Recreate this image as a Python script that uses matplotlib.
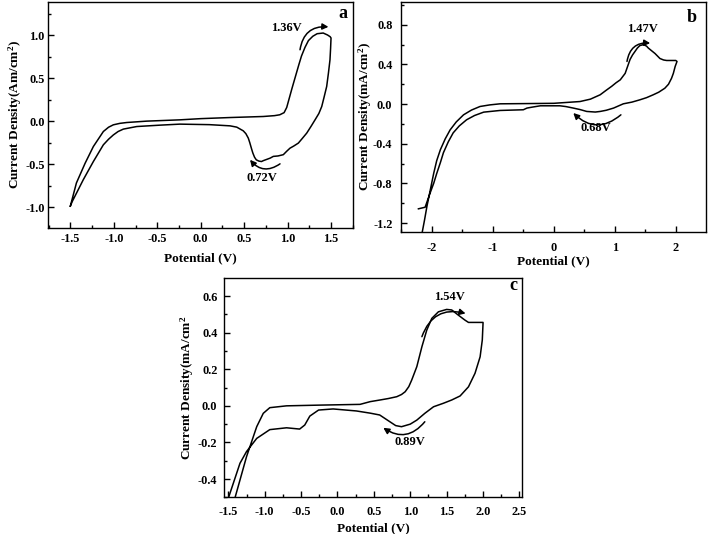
import numpy as np
import matplotlib
matplotlib.use("Agg")
import matplotlib.pyplot as plt
from matplotlib.ticker import MultipleLocator, FormatStrFormatter

plt.rcParams['font.family'] = ['Liberation Serif', 'DejaVu Serif']
plt.rcParams['font.weight'] = 'bold'
plt.rcParams['mathtext.fontset'] = 'custom'
plt.rcParams['mathtext.rm'] = 'Liberation Serif:bold'
plt.rcParams['mathtext.default'] = 'rm'

# ---- panel a: CV loop (forward sweep then return sweep) ----
a_pot = [-1.50, -1.43, -1.33, -1.235, -1.12, -1.06, -1.005, -0.93, -0.85, -0.62, -0.24, 0.00,
         0.34, 0.72, 0.85, 0.91, 0.96, 0.99, 1.02, 1.05, 1.09, 1.13, 1.16, 1.20, 1.24, 1.29,
         1.34, 1.41, 1.46, 1.49, 1.50,
         1.495, 1.488, 1.47, 1.45, 1.42, 1.393, 1.36, 1.316, 1.27, 1.22, 1.17, 1.124, 1.07, 1.028,
         0.99, 0.951, 0.89, 0.836, 0.80, 0.76, 0.72, 0.70, 0.67, 0.64, 0.62, 0.60, 0.585, 0.565,
         0.548, 0.52, 0.49, 0.415, 0.338, 0.10, -0.24, -0.47, -0.736, -0.89, -0.95, -1.005,
         -1.06, -1.12, -1.235, -1.35, -1.48, -1.50]
a_cur = [-0.99, -0.72, -0.49, -0.295, -0.12, -0.07, -0.042, -0.025, -0.015, 0.001, 0.016, 0.03,
         0.043, 0.055, 0.065, 0.075, 0.10, 0.16, 0.27, 0.38, 0.52, 0.66, 0.76, 0.86, 0.94, 0.99,
         1.02, 1.028, 1.005, 0.985, 0.97,
         0.85, 0.716, 0.56, 0.405, 0.28, 0.171, 0.09, 0.016, -0.06, -0.139, -0.20, -0.255, -0.29, -0.314,
         -0.35, -0.39, -0.405, -0.41, -0.43, -0.445, -0.46, -0.47, -0.465, -0.45, -0.42, -0.37, -0.32, -0.25,
         -0.197, -0.145, -0.112, -0.069, -0.054, -0.04, -0.034, -0.046, -0.062, -0.092, -0.12, -0.16,
         -0.21, -0.275, -0.47, -0.68, -0.94, -0.99]

# ---- panel b ----
b_pot = [-2.16, -2.12, -2.08, -2.02, -1.97, -1.92, -1.86, -1.78, -1.70, -1.60, -1.48, -1.35,
         -1.21, -1.05, -0.88, -0.50, 0.00, 0.43, 0.60, 0.76, 0.86, 0.95, 1.02, 1.09, 1.17, 1.21,
         1.25, 1.29, 1.33, 1.37, 1.41, 1.47, 1.52, 1.55, 1.60, 1.66, 1.74, 1.80, 1.85, 2.00,
         2.02, 1.99, 1.96, 1.93, 1.88, 1.82, 1.72, 1.63, 1.52, 1.41, 1.28, 1.14, 0.98, 0.86,
         0.76, 0.68, 0.54, 0.43, 0.32, 0.20, 0.10, -0.22, -0.35, -0.44, -0.50, -0.88, -1.15,
         -1.30, -1.43, -1.55, -1.65, -1.73, -1.81, -1.86, -1.92, -1.97, -2.03, -2.11, -2.22]
b_cur = [-1.30, -1.17, -1.03, -0.85, -0.70, -0.57, -0.46, -0.35, -0.26, -0.18, -0.108, -0.06,
         -0.024, -0.008, 0.003, 0.005, 0.008, 0.026, 0.05, 0.094, 0.14, 0.18, 0.215, 0.245, 0.31, 0.38,
         0.45, 0.495, 0.53, 0.565, 0.59, 0.60, 0.585, 0.565, 0.54, 0.51, 0.46, 0.445, 0.44, 0.44,
         0.43, 0.38, 0.31, 0.26, 0.20, 0.16, 0.12, 0.094, 0.065, 0.043, 0.02, 0.003, -0.04, -0.062,
         -0.074, -0.08, -0.074, -0.055, -0.04, -0.025, -0.017, -0.017, -0.03, -0.04, -0.057, -0.064, -0.081,
         -0.115, -0.158, -0.22, -0.29, -0.38, -0.49, -0.59, -0.70, -0.80, -0.90, -1.04, -1.056]

# ---- panel c ----
c_pot = [-1.41, -1.25, -1.11, -1.02, -0.93, -0.70, -0.24, 0.31, 0.45, 0.585, 0.70, 0.815, 0.88,
         0.93, 0.98, 1.02, 1.09, 1.16, 1.227, 1.296, 1.387, 1.50, 1.57, 1.66, 1.75, 1.80, 1.91, 2.00,
         2.00, 1.99, 1.96, 1.89, 1.80, 1.685, 1.57, 1.455, 1.32, 1.20, 1.09, 1.00, 0.88, 0.80, 0.72,
         0.58, 0.45, 0.26, -0.06, -0.26, -0.38, -0.45, -0.52, -0.70, -0.93, -1.11, -1.25, -1.34, -1.50]
c_cur = [-0.505, -0.278, -0.114, -0.041, -0.010, 0.0, 0.004, 0.008, 0.023, 0.032, 0.04, 0.05, 0.062,
         0.077, 0.105, 0.141, 0.214, 0.323, 0.414, 0.478, 0.514, 0.527, 0.524, 0.496, 0.469, 0.456, 0.456, 0.456,
         0.45, 0.36, 0.268, 0.178, 0.104, 0.054, 0.032, 0.014, -0.005, -0.041, -0.078, -0.10, -0.114, -0.108, -0.087,
         -0.05, -0.04, -0.028, -0.017, -0.023, -0.056, -0.105, -0.127, -0.12, -0.13, -0.178, -0.25, -0.314, -0.505]

# peak annotations: label, label position, arrow start, arrow end
a_notes = [("1.36V", (0.99, 1.09), (1.143, 0.833), (1.47, 1.10)),
           ("0.72V", (0.70, -0.66), (0.913, -0.497), (0.568, -0.45))]
b_notes = [("1.47V", (1.46, 0.76), (1.20, 0.43), (1.58, 0.615)),
           ("0.68V", (0.69, -0.24), (1.10, -0.108), (0.32, -0.09))]
c_notes = [("1.54V", (1.54, 0.596), (1.16, 0.378), (1.76, 0.505)),
           ("0.89V", (1.00, -0.20), (1.20, -0.087), (0.63, -0.12))]

fig = plt.figure(figsize=(7.09, 5.34), dpi=100)
ax_a = fig.add_axes([0.0677, 0.573, 0.4302, 0.4233])
ax_b = fig.add_axes([0.5652, 0.5655, 0.4301, 0.4308])
ax_c = fig.add_axes([0.3164, 0.0687, 0.4203, 0.4101])


def style(ax, xlim, ylim, xmaj, ymaj, xfmt, yfmt, ylabel, tag, tagpos,
          xpad, ypad, xlpad, ylpad):
    ax.set_xlim(*xlim)
    ax.set_ylim(*ylim)
    ax.xaxis.set_major_locator(MultipleLocator(xmaj))
    ax.xaxis.set_minor_locator(MultipleLocator(xmaj / 2))
    ax.yaxis.set_major_locator(MultipleLocator(ymaj))
    ax.yaxis.set_minor_locator(MultipleLocator(ymaj / 2))
    ax.xaxis.set_major_formatter(FormatStrFormatter(xfmt))
    ax.yaxis.set_major_formatter(FormatStrFormatter(yfmt))
    ax.tick_params(which='both', direction='in', top=False, right=False,
                   labelsize=8.8, width=1)
    ax.tick_params(which='major', length=4)
    ax.tick_params(which='minor', length=2.5)
    ax.tick_params(axis='x', pad=xpad)
    ax.tick_params(axis='y', pad=ypad)
    for s in ax.spines.values():
        s.set_linewidth(1.0)
    ax.set_xlabel('Potential (V)', fontsize=9.5, fontweight='bold', labelpad=xlpad)
    ax.set_ylabel(ylabel, fontsize=9.5, fontweight='bold', labelpad=ylpad)
    ax.text(tagpos[0], tagpos[1], tag, fontsize=13, fontweight='bold',
            ha='center', va='center')


def notes(ax, items):
    for label, tpos, start, end in items:
        ax.text(tpos[0], tpos[1], label, fontsize=9, fontweight='bold',
                ha='center', va='center')
        ax.annotate('', xy=end, xytext=start,
                    arrowprops=dict(arrowstyle='-|>,head_length=0.35,head_width=0.18',
                                    connectionstyle='arc3,rad=-0.45',
                                    color='black', lw=1.1,
                                    shrinkA=0, shrinkB=0))


ax_a.plot(a_pot, a_cur, color='black', lw=1.1)
style(ax_a, (-1.757, 1.753), (-1.245, 1.39), 0.5, 0.5, '%.1f', '%.1f',
      'Current Density(Am/cm$^2$)', 'a', (1.64, 1.26),
      xpad=3.5, ypad=2.5, xlpad=5, ylpad=1)
notes(ax_a, a_notes)

ax_b.plot(b_pot, b_cur, color='black', lw=1.1)
style(ax_b, (-2.51, 2.49), (-1.29, 1.03), 1, 0.4, '%d', '%.1f',
      'Current Density(mA/cm$^2$)', 'b', (2.26, 0.87),
      xpad=7, ypad=6, xlpad=1, ylpad=-1)
notes(ax_b, b_notes)

ax_c.plot(c_pot, c_cur, color='black', lw=1.1)
style(ax_c, (-1.555, 2.54), (-0.50, 0.697), 0.5, 0.2, '%.1f', '%.1f',
      'Current Density(mA/cm$^2$', 'c', (2.42, 0.66),
      xpad=6.5, ypad=5, xlpad=3, ylpad=1)
notes(ax_c, c_notes)

fig.savefig('out.png', dpi=100)
